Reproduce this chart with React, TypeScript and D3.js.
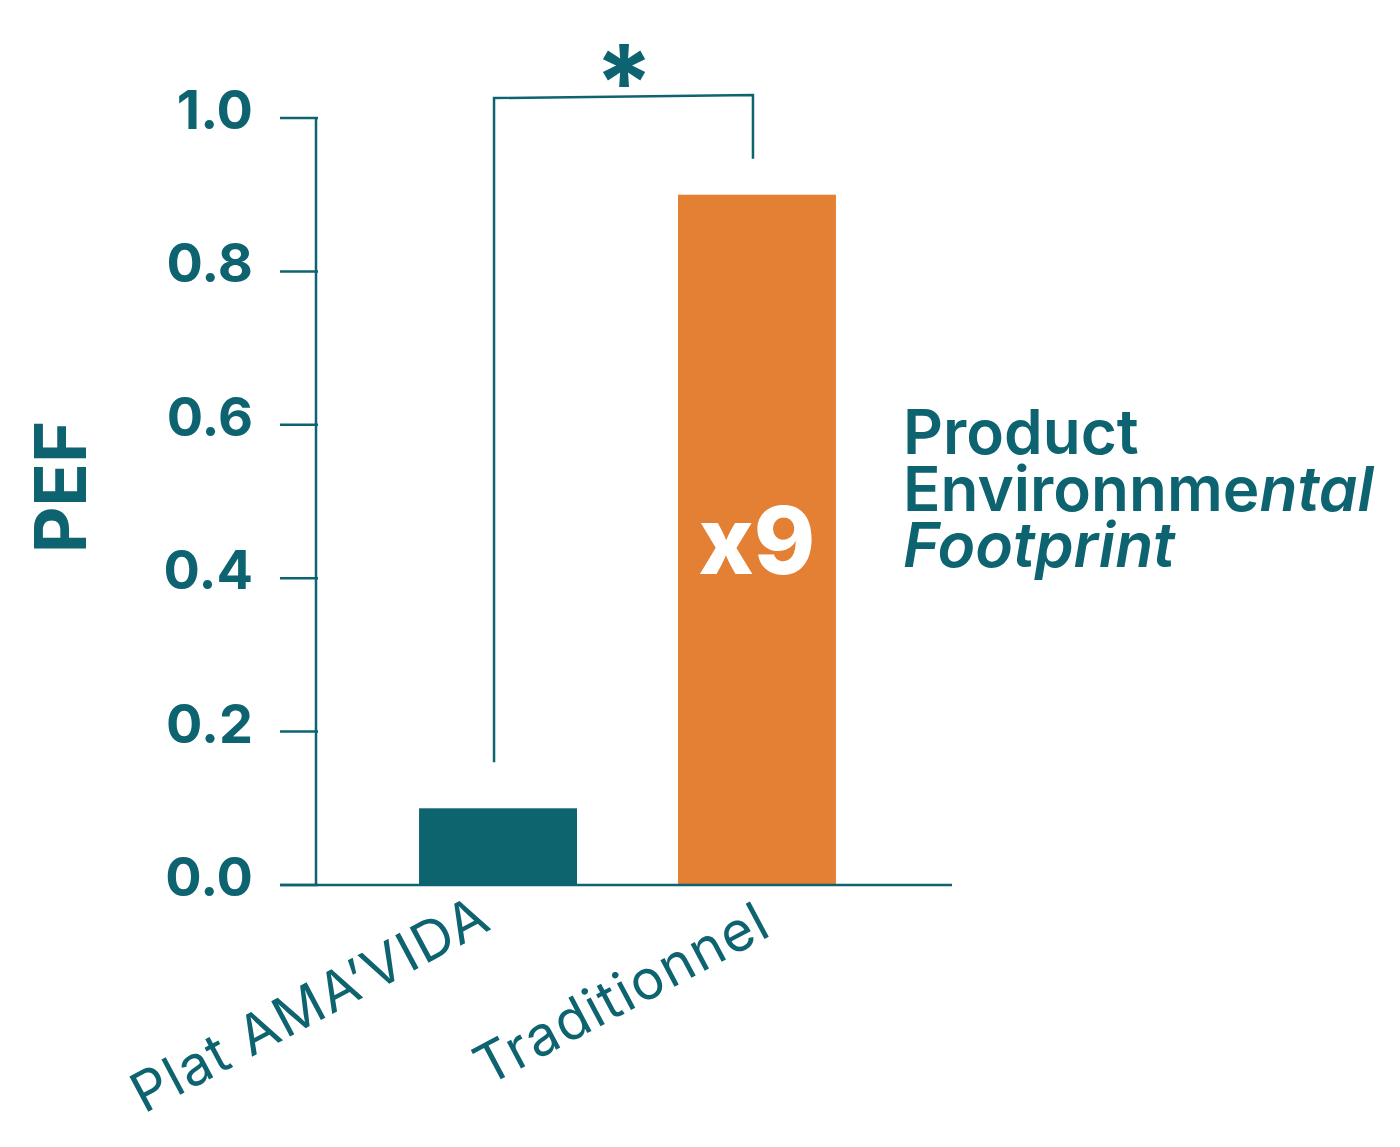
import React from "react";
import * as d3 from "d3";

const categories = ["Plat AMA’VIDA", "Traditionnel"];
const pefValues = [0.1, 0.9];
const barColors = ["#0d636e", "#e38033"];
const yTicks = [0, 0.2, 0.4, 0.6, 0.8, 1.0];
const ratioLabel = "x9";
const annotationLines = [
  [{ t: "Product", italic: false }],
  [{ t: "Environnme", italic: false }, { t: "ntal", italic: true }],
  [{ t: "Footprint", italic: true }],
];

const TEAL = "#0e6370";
const FONT = "Inter, 'Open Sans', sans-serif";

export default function App() {
  const width = 1400;
  const height = 1147;
  const y = d3.scaleLinear().domain([0, 1]).range([885, 118]);
  const x = d3.scaleBand().domain(categories).range([316, 939]).paddingInner(0.39).paddingOuter(0.398);
  const center = (c: string) => x(c)! + x.bandwidth() / 2;

  const x0 = center(categories[0]);
  const x1 = center(categories[1]);
  // small nudges for the rotated category labels
  const labelShift = [
    [-4, -9],
    [17, -3],
  ];

  return (
    <svg width={width} height={height} style={{ position: "absolute", left: 0, top: 0, background: "#fff" }}>
      {/* bars */}
      {categories.map((c, i) => (
        <rect key={c} x={x(c)} y={y(pefValues[i])} width={x.bandwidth()} height={y(0) - y(pefValues[i])} fill={barColors[i]} />
      ))}
      {/* axes */}
      <line x1={316} x2={316} y1={y(1)} y2={y(0)} stroke={TEAL} strokeWidth={2.5} />
      <line x1={280} x2={952} y1={y(0)} y2={y(0)} stroke={TEAL} strokeWidth={2.5} />
      {yTicks.map((t) => (
        <g key={t}>
          <line x1={280} x2={318} y1={y(t)} y2={y(t)} stroke={TEAL} strokeWidth={2.5} />
          <text x={253} y={y(t) + 11} textAnchor="end" fontFamily={FONT} fontWeight={700} fontSize={54} fill={TEAL}>
            {t.toFixed(1)}
          </text>
        </g>
      ))}
      {/* y axis title */}
      <text transform="translate(86,487) rotate(-90)" textAnchor="middle" fontFamily={FONT} fontWeight={700} fontSize={72} fill={TEAL}>
        PEF
      </text>
      {/* category labels */}
      {categories.map((c, i) => (
        <text
          key={c}
          transform={`translate(${center(c) + labelShift[i][0]},${y(0) + 52 + labelShift[i][1]}) rotate(-28)`}
          textAnchor="end"
          fontFamily={FONT}
          fontWeight={400}
          fontSize={55}
          letterSpacing={1.6}
          fill={TEAL}
        >
          {c}
        </text>
      ))}
      {/* significance bracket */}
      <path
        d={`M${x0 - 4},${y(0.16)} L${x0 - 4},${y(1.026)} L${x1 - 4},${y(1.03)} L${x1 - 4},${y(0.947)}`}
        fill="none"
        stroke={TEAL}
        strokeWidth={2.5}
      />
      <text x={624} y={120} textAnchor="middle" fontFamily={FONT} fontWeight={700} fontSize={105} fill={TEAL}>
        *
      </text>
      {/* ratio label */}
      <text x={x1} y={574} textAnchor="middle" fontFamily={FONT} fontWeight={800} fontSize={93} fill="#fff">
        {ratioLabel}
      </text>
      {/* annotation */}
      {annotationLines.map((line, i) => (
        <text key={i} x={903} y={454 + i * 56.5} fontFamily={FONT} fontWeight={600} fontSize={62} fill={TEAL}>
          {line.map((s, j) => (
            <tspan key={j} fontStyle={s.italic ? "italic" : "normal"}>
              {s.t}
            </tspan>
          ))}
        </text>
      ))}
    </svg>
  );
}
